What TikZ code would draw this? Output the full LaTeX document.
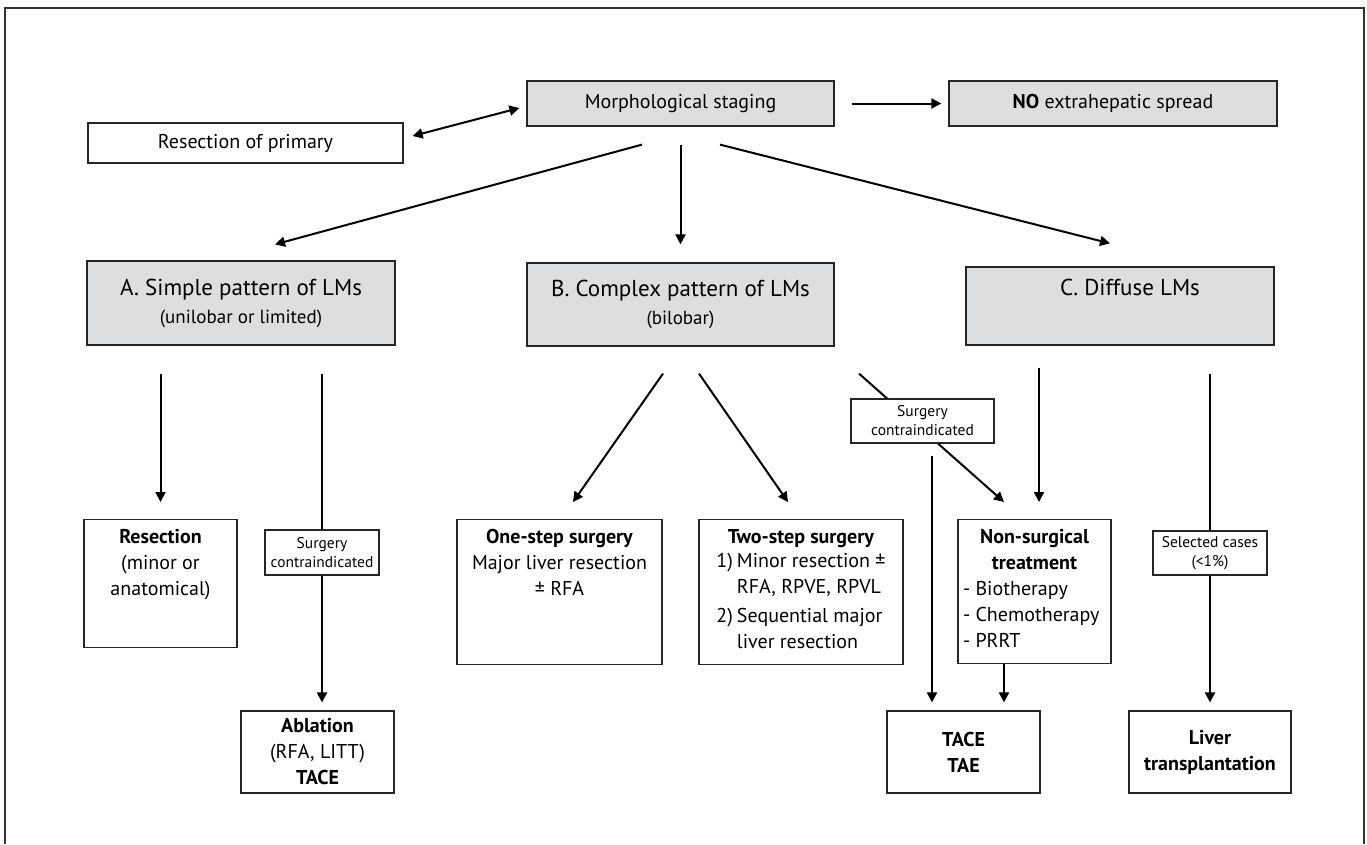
\documentclass[tikz,border=0pt]{standalone}
\usepackage{fontspec}
\setmainfont{PT Sans}
\usepackage{tikz}
\usetikzlibrary{arrows.meta,positioning,calc}
\definecolor{boxgray}{RGB}{221,222,224}
\newcommand{\mainsize}{\fontsize{20}{26}\selectfont}
\newcommand{\headsize}{\fontsize{23}{28}\selectfont}
\newcommand{\subsize}{\fontsize{19}{24}\selectfont}
\newcommand{\tagsize}{\fontsize{15.5}{19}\selectfont}
\tikzstyle{wbox}=[draw=black!85,line width=1.2pt,fill=white,inner sep=0pt,align=center,font=\mainsize]
\tikzstyle{gbox}=[wbox,fill=boxgray]
\tikzstyle{headbox}=[gbox,font=\headsize]
\tikzstyle{topbox}=[wbox,anchor=north,inner xsep=0pt,inner ysep=10pt]
\tikzstyle{tag}=[wbox,font=\tagsize]
\tikzstyle{arr}=[line width=2pt,-{Triangle[length=10pt,width=10pt]}]
\tikzstyle{arrboth}=[line width=2pt,{Triangle[length=10pt,width=10pt]}-{Triangle[length=10pt,width=10pt]}]

\begin{document}
\begin{tikzpicture}[x=1pt,y=-1pt]
\useasboundingbox (0,0) rectangle (1367,844);
% frame
\draw[line width=1.2pt,black!80] (5,844) -- (5,8) -- (1364,8) -- (1364,844);

% staging
\node [gbox,minimum width=307pt,minimum height=45pt] (morph) at (680.5,103.5) {Morphological staging};
\node [gbox,minimum width=328pt,minimum height=45pt] (noext) at (1113,103.5) {\textbf{NO} extrahepatic spread};
\node [wbox,minimum width=315pt,minimum height=40pt] (primary) at (245.5,143) {Resection of primary};

% patterns
\node [headbox,minimum width=308pt,minimum height=84pt] (simpleA) at (241,303)
	{A. Simple pattern of LMs\\{\subsize (unilobar or limited)}};
\node [headbox,minimum width=307pt,minimum height=83pt] (complexB) at (680.5,304.5)
	{B. Complex pattern of LMs\\{\subsize (bilobar)}};
\node [headbox,minimum width=308pt,minimum height=78pt] (diffuseC) at (1120,306)
	{\hspace*{20pt}C. Diffuse LMs\\\strut};

% treatments
\node [topbox,minimum width=153pt] (resect) at (160.5,519)
	{\parbox[t][108pt][t]{153pt}{\centering\textbf{Resection}\\(minor or\\anatomical)}};
\node [topbox,minimum width=205pt] (onestep) at (559.5,519)
	{\parbox[t][125pt][t]{205pt}{\centering\textbf{One-step surgery}\\Major liver resection\\± RFA}};
\node [topbox,minimum width=204pt] (twostep) at (801,519)
	{\parbox[t][125pt][t]{204pt}{\centering\textbf{Two-step surgery}\\
	\begin{tabular}{@{}l@{\hspace{4pt}}l@{}}
	1) & Minor resection ±\\
	   & RFA, RPVE, RPVL\\[3pt]
	2) & Sequential major\\
	   & liver resection
	\end{tabular}}};
\node [topbox,minimum width=153pt] (nonsurg) at (1034.5,519)
	{\parbox[t][124pt][t]{153pt}{\centering\textbf{Non-surgical}\\\textbf{treatment}\par
	\raggedright\leftskip=5pt -~Biotherapy\\-~Chemotherapy\\-~PRRT}};

% last row
\node [wbox,minimum width=153pt,minimum height=82pt] (ablation) at (317.5,752)
	{\textbf{Ablation}\\(RFA, LITT)\\\textbf{TACE}};
\node [wbox,minimum width=153pt,minimum height=82pt] (tace) at (963.5,752)
	{\textbf{TACE}\\\textbf{TAE}};
\node [wbox,minimum width=162pt,minimum height=82pt] (liver) at (1210,752)
	{\textbf{Liver}\\\textbf{transplantation}};

% labels on the lines
\node [tag,minimum width=114pt,minimum height=45pt] (tagL) at (322,552.5) {Surgery\\contraindicated};
\node [tag,minimum width=114pt,minimum height=44pt] (tagR) at (1210,553) {Selected cases\\(<1\%)};

% links from staging
\draw[arr] ([xshift=17pt]morph.east) -- ([xshift=-7pt]noext.west);
\draw[arrboth] ([shift={(9,-7)}]primary.east) -- ([shift={(-7,4.5)}]morph.west);
\draw[arr] ([shift={(-38.5,18)}]morph.south) -- ([shift={(34,-16)}]simpleA.north);
\draw[arr] ([shift={(0,18)}]morph.south) -- ([shift={(0,-18)}]complexB.north);
\draw[arr] ([shift={(39.5,18)}]morph.south) -- ([shift={(-10,-23)}]diffuseC.north);

% simple pattern
\draw[arr] ($(resect.north |- simpleA.south)+(0,28)$) -- ($(resect.north)+(0,-17)$);
\draw[line width=2pt] ($(tagL.north |- simpleA.south)+(0,28)$) -- (tagL.north);
\draw[arr] (tagL.south) -- ($(tagL.south |- ablation.north)+(0,-8)$);

% complex pattern
\draw[arr] ($(complexB.south)+(-17.5,27)$) -- ($(onestep.north)+(13.5,-17)$);
\draw[arr] ($(complexB.south)+(18.5,27)$) -- ($(twostep.north)+(-13,-17)$);
\draw[arr] ($(complexB.south)+(178.5,27)$) -- ($(nonsurg.north)+(-30.5,-17)$);
\node [tag,minimum width=143pt,minimum height=44pt] (tagM) at (922.5,421) {Surgery\\contraindicated};
\draw[arr] ($(tagM.south)+(9.5,12)$) -- ($(tace.north)+(-31.5,-8)$);

% diffuse
\draw[arr] ($(nonsurg.north |- diffuseC.south)+(4.5,22)$) -- ($(nonsurg.north)+(4.5,-17)$);
\draw[arr] ($(nonsurg.south)+(-30.5,0)$) -- ($(tace.north)+(40.5,-8)$);
\draw[line width=2pt] ($(tagR.north |- diffuseC.south)+(0,28)$) -- (tagR.north);
\draw[arr] (tagR.south) -- ($(liver.north)+(0,-8)$);
\end{tikzpicture}
\end{document}
